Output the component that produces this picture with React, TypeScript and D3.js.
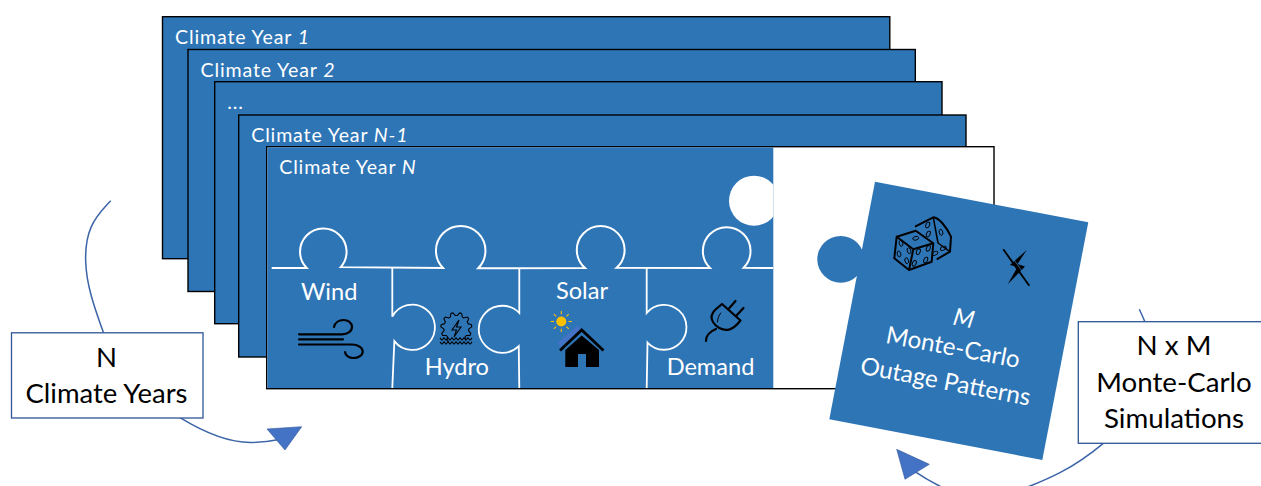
import React from "react";
import * as d3 from "d3";

// ---- content ----
const sheetIds = ["y1", "y2", "y3", "y4", "y5"];
const sheetPrefix = ["Climate Year ", "Climate Year ", "", "Climate Year ", "Climate Year "];
const sheetSuffix = ["1", "2", "", "N-1", "N"];
const sheetPlain = ["", "", "...", "", ""];
const pieceLabels = ["Wind", "Hydro", "Solar", "Demand"];
const leftBoxLines = ["N", "Climate Years"];
const rightBoxLines = ["N x M", "Monte-Carlo", "Simulations"];
const cardLines = ["M", "Monte-Carlo", "Outage Patterns"];

// ---- layout scales ----
const sheetLeft = d3.scaleOrdinal<string, number>(sheetIds, [162.5, 188, 214.7, 238.7, 266.7]);
const sheetTop = d3.scaleOrdinal<string, number>(sheetIds, [16.7, 49.5, 81.7, 115, 146.7]);
const SHEET_W = 727.3;
const SHEET_H = 242;
const BLUE = "#2E75B6";
const BOX = "#2F5597";
const LINE = "#3B64A8";
const ARROW = "#4472C4";
const FONT = "Lato, Carlito, sans-serif";

const SEAM_Y = 268;
const topKnobs = [
  { cx: 323.3, cy: 251.7, x0: 306.7, x1: 341.7 },
  { cx: 460.7, cy: 250.7, x0: 443, x1: 478 },
  { cx: 600.7, cy: 250, x0: 585, x1: 616.7 },
  { cx: 726.7, cy: 251, x0: 710, x1: 744 },
];
const sideKnobs = [
  { x: 392.3, cx: 412.3, cy: 327.3, y0: 316.7, y1: 342.7, ccw: false },
  { x: 519.3, cx: 502.3, cy: 329.3, y0: 313, y1: 346.7, ccw: true },
  { x: 646.7, cx: 664, cy: 327.3, y0: 313, y1: 343.3, ccw: false },
];

function seamPath() {
  const p = d3.path();
  p.moveTo(271.7, SEAM_Y);
  topKnobs.forEach((k) => {
    p.lineTo(k.x0, SEAM_Y);
    const r = Math.hypot(k.x0 - k.cx, SEAM_Y - k.cy);
    const a0 = Math.atan2(SEAM_Y - k.cy, k.x0 - k.cx);
    const a1 = Math.atan2(SEAM_Y - k.cy, k.x1 - k.cx);
    p.arc(k.cx, k.cy, r, a0, a1, false);
  });
  p.lineTo(773, SEAM_Y);
  return p.toString();
}

function sidePath(k: (typeof sideKnobs)[number]) {
  const p = d3.path();
  p.moveTo(k.x, SEAM_Y);
  p.lineTo(k.x, k.y0);
  const r = Math.hypot(k.x - k.cx, k.y0 - k.cy);
  const a0 = Math.atan2(k.y0 - k.cy, k.x - k.cx);
  const a1 = Math.atan2(k.y1 - k.cy, k.x - k.cx);
  p.arc(k.cx, k.cy, r, a0, a1, k.ccw);
  p.lineTo(k.x, 388);
  return p.toString();
}

const curve = d3.line<[number, number]>().curve(d3.curveBasis);
const gearPts: [number, number][] = d3.range(0, 44).map((i) => {
  const a = (i / 44) * 2 * Math.PI + Math.PI / 2 + 0.5;
  const on = i % 4 < 2;
  const r = on ? 15.5 : 12.5;
  return [456.3 + r * Math.cos(a), 328 + r * Math.sin(a)];
}).slice(0, 37);
const wavePts = (y: number): [number, number][] =>
  d3.range(0, 33, 2).map((d, i) => [440 + d, y + (i % 2 ? 1.1 : -1.1)]);
const wave = d3.line<[number, number]>().curve(d3.curveCatmullRom);

const sunRays = d3.range(0, 8).map((i) => (i * Math.PI) / 4);
const frontPips: [number, number, number][] = [
  [915.7, 238.3, 75], [901, 243.3, -15], [909, 250.7, -15], [899, 254, -15], [906.7, 260.7, -15],
  [918.3, 251.7, 25], [928.3, 248.3, 25], [925.7, 260, 25], [914.3, 263.3, 25],
];
const backPips: [number, number, number][] = [
  [927.7, 225, 25], [941, 232.3, -15], [928.3, 234, 25], [943.3, 248.3, 65], [935, 253.3, 65],
];

export default function App() {
  return (
    <svg
      width={1261}
      height={486}
      viewBox="0 0 1261 486"
      style={{ position: "absolute", left: 0, top: 0, display: "block", background: "#fff" }}
      fontFamily={FONT}
    >
      {sheetIds.map((id, i) => {
        const x = sheetLeft(id);
        const y = sheetTop(id);
        const last = i === sheetIds.length - 1;
        return (
          <g key={id}>
            <rect x={x} y={y} width={SHEET_W} height={SHEET_H} fill={last ? "#fff" : BLUE} stroke="#000" strokeWidth={1.4} />
            {last && <rect x={x + 0.7} y={y + 0.7} width={773.3 - x - 0.7} height={SHEET_H - 1.4} fill={BLUE} />}
            <text x={x + 12.5} y={y + 27} fill="#fff" fontSize={19.6} letterSpacing={0.85}>
              {sheetPrefix[i]}
              <tspan fontStyle="italic">{sheetSuffix[i]}</tspan>
              {sheetPlain[i]}
            </text>
          </g>
        );
      })}

      {/* puzzle seams */}
      <path d={seamPath()} fill="none" stroke="#fff" strokeWidth={2} />
      {sideKnobs.map((k) => (
        <path key={k.x} d={sidePath(k)} fill="none" stroke="#fff" strokeWidth={1.8} />
      ))}
      <circle cx={754} cy={200.7} r={25} fill="#fff" clipPath="url(#cutRight)" />
      <defs>
        <clipPath id="cutRight"><rect x={700} y={150} width={73.3} height={100} /></clipPath>
      </defs>

      {/* piece labels */}
      {pieceLabels.map((t, i) => (
        <text
          key={t}
          x={[329.2, 456.8, 582, 710.5][i]}
          y={[300, 375, 299, 375][i]}
          fill="#fff"
          fontSize={23.6}
          textAnchor="middle"
        >
          {t}
        </text>
      ))}

      {/* wind */}
      <g fill="none" stroke="#000" strokeWidth={2.2} strokeLinecap="round">
        <path d="M299 334.3H342C348 334.3 352 331 352 327C352 322.5 348 320 343.5 320C339 320 335 322.5 334 327" />
        <path d="M299 339.3H343" />
        <path d="M299 344.5H352C358 344.5 362.7 348 362.7 351.5C362.7 355.5 358 358 353.5 358C349 358 345.5 355.5 345 352" />
      </g>

      {/* hydro */}
      <g fill="none" stroke="#000" strokeWidth={1.1}>
        <path d={d3.line()(gearPts) ?? ""} strokeLinejoin="round" />
        <path d="M459 320L452 330H456.5L454 337L461 327H456.5Z" />
        <path d={wave(wavePts(339)) ?? ""} />
        <path d={wave(wavePts(343)) ?? ""} />
      </g>

      {/* solar house */}
      <circle cx={561.3} cy={321.5} r={5} fill="#FFC000" />
      <g stroke="#FFC000" strokeWidth={1.1}>
        {sunRays.map((a) => (
          <line
            key={a}
            x1={561.3 + 7.3 * Math.cos(a)}
            y1={321.5 + 7.3 * Math.sin(a)}
            x2={561.3 + 10.5 * Math.cos(a)}
            y2={321.5 + 10.5 * Math.sin(a)}
          />
        ))}
      </g>
      <path d="M559 345L579 327.5" stroke="#4472C4" strokeWidth={5} fill="none" />
      <path d="M560 350.5L581.7 330L603.5 350.5" stroke="#000" strokeWidth={2.8} fill="none" />
      <path
        d="M565.3 367V350L581.7 335.5L599 350V367H586V354H578V367Z"
        fill="#000"
      />

      {/* plug */}
      <g fill="none" stroke="#000" strokeWidth={2.2} strokeLinecap="round" strokeLinejoin="round">
        <path d="M722 304L740.5 320.5C737 325 733 329 728 329.8C722 330.5 716 327 713 322C710 317 712 313 715 310Z" />
        <path d="M728.5 309L735.5 301" />
        <path d="M736 316L743.5 308" />
        <path d="M716 329C711 331 706 334 706 341" />
        <path d="M720.7 313C718.5 316 717.5 319 717.5 322" strokeWidth={1} />
      </g>

      {/* right-hand box and links */}
      <path d="M1139.3 309.3Q1142 315 1145 322" fill="none" stroke={LINE} strokeWidth={1.5} />
      <path d="M1103.3 443.3C1075 467 1050 480 1005 495" fill="none" stroke={LINE} strokeWidth={1.5} />
      <path d="M915 471.7Q930 482 948 490" fill="none" stroke={LINE} strokeWidth={1.5} />
      <path d="M896.7 449.3L929.3 464.3L905 479.3Z" fill={ARROW} stroke={BOX} strokeWidth={0.6} />
      <rect x={1078.3} y={321.7} width={200} height={121.6} fill="#fff" stroke={BOX} strokeWidth={1.3} />
      {rightBoxLines.map((t, i) => (
        <text key={t} x={1174} y={355.3 + i * 36.4} fontSize={27.7} textAnchor="middle" fill="#000">
          {t}
        </text>
      ))}

      {/* outage card */}
      <circle cx={840.7} cy={259.3} r={23.4} fill={BLUE} />
      <path d={d3.line()([[875, 181.7], [1088.3, 222.3], [1042.3, 460], [829.3, 419.3]]) + "Z"} fill={BLUE} />
      <g transform="rotate(10.8 953 348)" fill="#fff" textAnchor="middle" fontSize={24.2}>
        <text x={958} y={325} fontStyle="italic">{cardLines[0]}</text>
        <text x={953} y={355.5}>{cardLines[1]}</text>
        <text x={952} y={390.5}>{cardLines[2]}</text>
      </g>

      {/* dice */}
      <g fill="none" stroke="#000" strokeWidth={2} strokeLinejoin="round">
        <path d="M915 226.7L933.3 217.3C939 218 946 226 951 236.7L950 251.7L936.7 259.3" />
        <path d="M933.3 217.3L938 243L950 251.7" strokeWidth={1.5} />
        <path d="M896.7 236.7L915.7 230.7L933.3 243.3L931.7 261.7L909 270L894.3 258.3Z" fill={BLUE} />
        <path d="M896.7 236.7L913.3 249.3L933.3 243.3M913.3 249.3L909 270" />
      </g>
      <g fill="none" stroke="#000" strokeWidth={0.9}>
        {backPips.concat(frontPips).map(([x, y, a]) => (
          <ellipse key={`${x}-${y}`} cx={x} cy={y} rx={1.8} ry={3} transform={`rotate(${a} ${x} ${y})`} />
        ))}
      </g>

      {/* bolt with cross */}
      <path d="M1026.7 250L1010 265L1017.5 267L1007.7 284.3L1025 266.5L1017.5 264Z" fill="#000" />
      <path d="M1003.3 249.3L1029.3 285.7" stroke="#000" strokeWidth={1.8} />
      <path d="M1010 258L1023 276" stroke={BLUE} strokeWidth={0.8} transform="translate(1.8 -1.2)" />

      {/* left-hand box and links */}
      <path d={curve([[110.7, 200.7], [88, 225], [84, 262], [90, 295], [103.5, 332.7]]) ?? ""} fill="none" stroke={LINE} strokeWidth={1.5} />
      <path d="M180 417.7C205 433 230 443 252 442.5C262 442.3 272 441 279 439.5" fill="none" stroke={LINE} strokeWidth={1.5} />
      <path d="M267 429L301.7 426.7L285 450Z" fill={ARROW} stroke={BOX} strokeWidth={0.6} />
      <rect x={11.5} y={332.8} width={191.5} height={85.2} fill="#fff" stroke={BOX} strokeWidth={1.3} />
      {leftBoxLines.map((t, i) => (
        <text key={t} x={106.5} y={366.7 + i * 36} fontSize={27.5} textAnchor="middle" fill="#000">
          {t}
        </text>
      ))}
    </svg>
  );
}
